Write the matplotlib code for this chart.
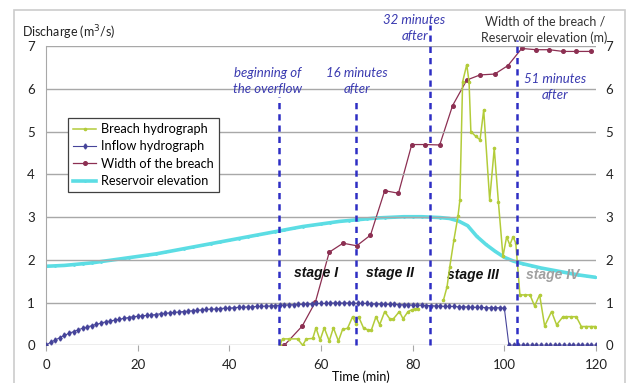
import numpy as np
import matplotlib.pyplot as plt
from matplotlib.patches import Rectangle

plt.rcParams['font.family'] = ['Lato', 'DejaVu Sans']
plt.rcParams['font.size'] = 9

# inflow hydrograph, one value per minute (m3/s)
inflow_t = list(range(0, 121))
inflow_q = [0.00, 0.07, 0.12, 0.18, 0.23, 0.28, 0.32, 0.36, 0.40, 0.43,
            0.46, 0.49, 0.52, 0.55, 0.57, 0.59, 0.61, 0.63, 0.65, 0.67,
            0.68, 0.69, 0.70, 0.71, 0.72, 0.74, 0.75, 0.76, 0.77, 0.78,
            0.79, 0.80, 0.81, 0.82, 0.83, 0.84, 0.85, 0.85, 0.86, 0.87,
            0.87, 0.88, 0.89, 0.89, 0.90, 0.90, 0.91, 0.91, 0.92, 0.92,
            0.93, 0.94, 0.94, 0.95, 0.95, 0.96, 0.96, 0.97, 0.97, 0.98,
            0.98, 0.98, 0.99, 0.99, 0.99, 0.99, 0.99, 0.99, 0.98, 0.98,
            0.98, 0.97, 0.97, 0.97, 0.96, 0.96, 0.96, 0.95, 0.95, 0.95,
            0.94, 0.94, 0.94, 0.93, 0.93, 0.92, 0.92, 0.91, 0.91, 0.91,
            0.90, 0.90, 0.90, 0.89, 0.89, 0.89, 0.88, 0.88, 0.88, 0.88,
            0.87, 0.00, 0.00, 0.00, 0.00, 0.00, 0.00, 0.00, 0.00, 0.00,
            0.00, 0.00, 0.00, 0.00, 0.00, 0.00, 0.00, 0.00, 0.00, 0.00,
            0.00]

# breach hydrograph (gap = no measurement)
breach_t = [51.0, 51.6, 53.0, 54.9, 56.0, 56.8, 58.2, 58.9, 59.8, 60.7,
            61.8, 62.7, 63.8, 64.7, 65.8, 66.9, 67.6, 68.2, 69.3, 70.3,
            71.0, 72.0, 72.8, 73.9, 75.0, 75.8, 77.1, 77.9, 79.0, 79.8,
            80.5, 81.2, np.nan, 86.7, 87.5, 88.1, 89.0, 89.9, 90.3, 90.9,
            91.8, 92.3, 92.7, 93.8, 94.7, 95.5, 96.8, 97.8, 98.7, 99.7,
            100.5, 101.2, 101.9, 102.5, 103.4, 104.5, 105.6, 106.6, 107.7, 108.8,
            110.3, 111.4, 112.8, 113.5, 114.6, 115.7, 116.8, 117.9, 118.9, 119.8]
breach_q = [0.00, 0.15, 0.15, 0.15, 0.00, 0.15, 0.16, 0.41, 0.12, 0.41,
            0.10, 0.41, 0.10, 0.37, 0.40, 0.67, 0.51, 0.67, 0.40, 0.36,
            0.36, 0.67, 0.48, 0.79, 0.62, 0.62, 0.79, 0.62, 0.79, 0.83,
            0.85, 0.85, np.nan, 1.05, 1.37, 1.84, 2.47, 3.03, 3.40, 6.17,
            6.57, 6.17, 5.00, 4.89, 4.81, 5.51, 3.40, 4.61, 3.36, 2.08,
            2.54, 2.35, 2.54, 2.39, 1.18, 1.18, 1.18, 0.92, 1.18, 0.45,
            0.79, 0.48, 0.67, 0.67, 0.67, 0.67, 0.44, 0.44, 0.44, 0.44]

# breach width (m)
width_t = [52.0, 55.9, 58.8, 61.8, 64.8, 67.8, 70.8, 73.9, 76.9, 79.8,
           82.7, 85.9, 88.7, 91.8, 94.7, 97.9, 100.8, 103.8, 106.9, 109.8,
           112.8, 115.7, 118.9]
width_m = [0.00, 0.45, 1.02, 2.18, 2.39, 2.33, 2.58, 3.62, 3.56, 4.70,
           4.70, 4.69, 5.61, 6.21, 6.33, 6.35, 6.55, 6.95, 6.92, 6.92,
           6.88, 6.88, 6.88]

# reservoir elevation (m), every 2 minutes
elev_t = list(range(0, 121, 2))
elev_m = [1.85, 1.86, 1.87, 1.89, 1.91, 1.93, 1.96, 1.99, 2.02, 2.05,
          2.08, 2.11, 2.14, 2.18, 2.22, 2.26, 2.30, 2.34, 2.38, 2.42,
          2.46, 2.50, 2.54, 2.58, 2.62, 2.66, 2.70, 2.74, 2.78, 2.81,
          2.84, 2.87, 2.90, 2.92, 2.94, 2.96, 2.98, 2.99, 3.00, 3.01,
          3.01, 3.01, 3.00, 2.99, 2.97, 2.91, 2.80, 2.55, 2.36, 2.20,
          2.06, 1.97, 1.91, 1.86, 1.81, 1.77, 1.73, 1.69, 1.65, 1.62,
          1.59]

# event lines: start of overflow, +16, +32, +51 min
event_t = [50.8, 67.6, 83.7, 102.7]
event_top = [5.81, 5.74, 7.5, 7.15]
event_text = ['beginning of\nthe overflow', '16 minutes\nafter', '32 minutes\nafter', '51 minutes\nafter']
event_text_xy = [(48.4, 6.19), (67.8, 6.19), (80.4, 7.43), (111.0, 6.05)]

stage_names = ['stage I', 'stage II', 'stage III', 'stage IV']
stage_xy = [(59.0, 1.69), (75.0, 1.69), (93.1, 1.65), (110.5, 1.65)]
stage_colors = ['#111111', '#111111', '#111111', '#a0a0a0']

c_breach = '#b3cc3a'
c_inflow = '#46449a'
c_width = '#8c2f52'
c_elev = '#5cdde4'
c_event = '#2e2ec4'
c_note = '#3a3ab0'

fig = plt.figure(figsize=(6.26, 3.83), dpi=100)
fig.patches.append(Rectangle((14/626, -0.02), (625-14)/626, 1-10/383+0.02,
                             transform=fig.transFigure, fill=False,
                             edgecolor='#cccccc', lw=1.2))
ax = fig.add_axes([46/626, 1-345.3/383, (596-46)/626, (345.3-46.3)/383])
ax2 = ax.twinx()

for a in (ax, ax2):
    a.set_xlim(0, 120)
    a.set_ylim(0, 7)
    for s in a.spines.values():
        s.set_visible(False)

ax.set_yticks(range(8))
ax2.set_yticks(range(8))
ax.set_xticks(range(0, 121, 20))
ax.yaxis.grid(True, color='#a8a8a8', lw=1)
ax.set_axisbelow(True)
ax.spines['left'].set_visible(True)
ax.spines['left'].set_color('#a8a8a8')
ax.tick_params(axis='y', length=0, pad=8, labelcolor='#222222', labelsize=9.5)
ax2.tick_params(axis='y', length=0, pad=7, labelcolor='#222222', labelsize=9.5)
ax.tick_params(axis='x', length=4, direction='out', color='#a8a8a8', pad=6,
               labelcolor='#222222', labelsize=9.5)
ax.set_xlabel('Time (min)', labelpad=-2)
ax.xaxis.set_label_coords((361-46)/550, -0.085)

l_inflow, = ax.plot(inflow_t, inflow_q, color=c_inflow, lw=0.8, marker='d', ms=2.6,
                    label='Inflow hydrograph', zorder=3)
l_elev, = ax2.plot(elev_t, elev_m, color=c_elev, lw=2.6, marker='.', ms=2,
                   label='Reservoir elevation', zorder=2)
l_width, = ax2.plot(width_t, width_m, color=c_width, lw=0.9, marker='o', ms=2.6,
                    label='Width of the breach', zorder=3)
l_breach, = ax.plot(breach_t, breach_q, color=c_breach, lw=1.1, marker='o', ms=1.6,
                    label='Breach hydrograph', zorder=4)
ax.set_zorder(ax2.get_zorder() + 1)
ax.patch.set_visible(False)

for t, top in zip(event_t, event_top):
    ax.plot([t, t], [0, top], color=c_event, lw=1.8, ls=(0, (2.5, 2)), clip_on=False, zorder=5)
for txt, (x, y) in zip(event_text, event_text_xy):
    ax.text(x, y, txt, color=c_note, style='italic', fontsize=9.5, ha='center', va='center',
            linespacing=1.4, clip_on=False)

for name, (x, y), c in zip(stage_names, stage_xy, stage_colors):
    ax.text(x, y, name, color=c, fontsize=10, ha='center', va='center',
            family='Liberation Sans', weight='bold', style='italic')

ax.text(-5.2, 7.32, 'Discharge (m$^3$/s)', fontsize=9, ha='left', va='center', color='#222222')
ax.text(108.8, 7.38, 'Width of the breach /\nReservoir elevation (m)', fontsize=9,
        ha='center', va='center', linespacing=1.35, color='#333333')

leg = fig.legend(handles=[l_breach, l_inflow, l_width, l_elev], loc='upper left',
                 bbox_to_anchor=(68/626, 1-118/383), bbox_transform=fig.transFigure,
                 borderaxespad=0, fancybox=False, edgecolor='#404040', framealpha=1,
                 handlelength=1.8, handletextpad=0.4, labelspacing=0.42, borderpad=0.4,
                 fontsize=9.2)
leg.get_frame().set_linewidth(0.9)

fig.savefig('out.png', dpi=100)
